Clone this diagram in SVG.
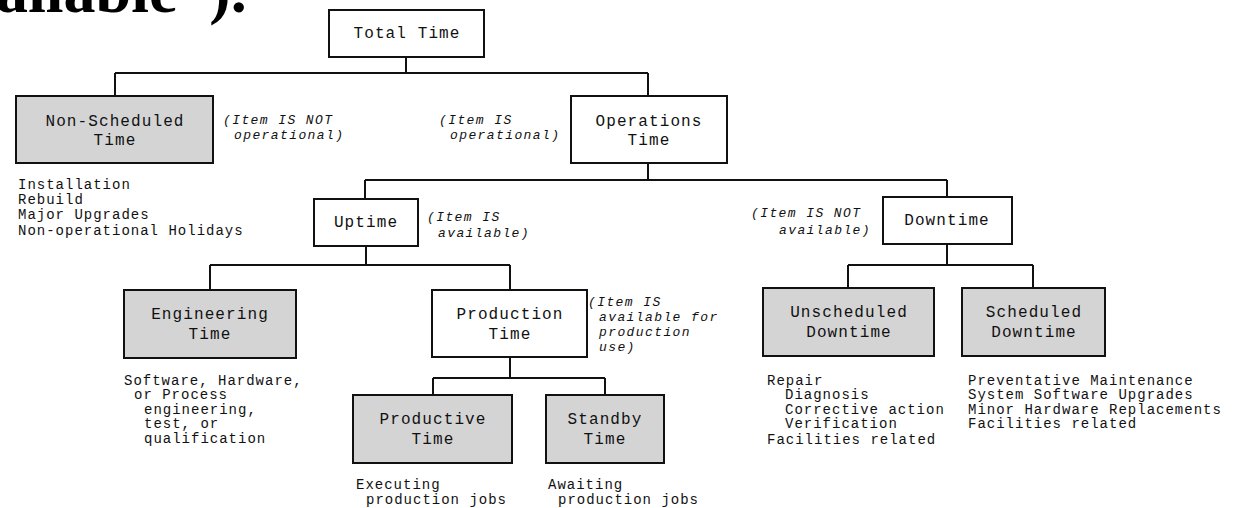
<svg xmlns="http://www.w3.org/2000/svg" width="1236" height="508" viewBox="0 0 1236 508">
<style>
.box{fill:#fff;stroke:#111;stroke-width:2}
.gray{fill:#d4d4d4}
.lbl{font-family:"Liberation Mono","Courier New",monospace;font-size:16px;letter-spacing:1.1px;fill:#111;text-anchor:middle}
.note{font-family:"Liberation Mono","Courier New",monospace;font-size:14px;letter-spacing:1px;fill:#111}
.it{font-family:"Liberation Mono","Courier New",monospace;font-size:13px;letter-spacing:1.4px;font-style:italic;fill:#111}
.conn{fill:none;stroke:#111;stroke-width:2}
.title{font-family:"Liberation Serif","Times New Roman",serif;font-size:64px;font-weight:bold;fill:#000}
</style>
<text class="title" x="-4" y="12">ailable”).</text>
<g id="connectors">
<path class="conn" d="M406,57 V73 M115,73 H648 M115,73 V96 M648,73 V96"/>
<path class="conn" d="M648,163 V180 M365,180 H947 M365,180 V199 M947,180 V197"/>
<path class="conn" d="M366,246 V265 M210,265 H510 M210,265 V290 M510,265 V290"/>
<path class="conn" d="M947,244 V265 M848,265 H1033 M848,265 V288 M1033,265 V288"/>
<path class="conn" d="M510,357 V378 M433,378 H605 M433,378 V395 M605,378 V395"/>
</g>
<g id="total">
<rect class="box" x="329" y="10" width="155" height="47"/>
<text class="lbl" x="407" y="38">Total Time</text>
</g>
<g id="nonscheduled">
<rect class="box gray" x="16" y="96" width="197" height="67"/>
<text class="lbl" x="115" y="126">Non-Scheduled</text>
<text class="lbl" x="115" y="145">Time</text>
<text class="note" x="18" y="189">Installation</text>
<text class="note" x="18" y="204">Rebuild</text>
<text class="note" x="18" y="219">Major Upgrades</text>
<text class="note" x="18" y="235">Non-operational Holidays</text>
</g>
<g id="note-notop">
<text class="it" x="223" y="124">(Item IS NOT</text>
<text class="it" x="234" y="139">operational)</text>
</g>
<g id="note-op">
<text class="it" x="439" y="124">(Item IS</text>
<text class="it" x="450" y="139">operational)</text>
</g>
<g id="operations">
<rect class="box" x="571" y="96" width="156" height="67"/>
<text class="lbl" x="649" y="126">Operations</text>
<text class="lbl" x="649" y="145">Time</text>
</g>
<g id="uptime">
<rect class="box" x="314" y="199" width="104" height="47"/>
<text class="lbl" x="366" y="227">Uptime</text>
<text class="it" x="427" y="221">(Item IS</text>
<text class="it" x="438" y="237">available)</text>
</g>
<g id="downtime">
<rect class="box" x="883" y="197" width="129" height="47"/>
<text class="lbl" x="947" y="225">Downtime</text>
<text class="it" x="751" y="217">(Item IS NOT</text>
<text class="it" x="779" y="234">available)</text>
</g>
<g id="engineering">
<rect class="box gray" x="124" y="290" width="172" height="68"/>
<text class="lbl" x="210" y="319">Engineering</text>
<text class="lbl" x="210" y="339">Time</text>
<text class="note" x="124" y="385">Software, Hardware,</text>
<text class="note" x="134" y="399">or Process</text>
<text class="note" x="144" y="414">engineering,</text>
<text class="note" x="144" y="428">test, or</text>
<text class="note" x="144" y="443">qualification</text>
</g>
<g id="production">
<rect class="box" x="432" y="290" width="155" height="67"/>
<text class="lbl" x="510" y="319">Production</text>
<text class="lbl" x="510" y="339">Time</text>
<text class="it" x="588" y="306">(Item IS</text>
<text class="it" x="599" y="321">available for</text>
<text class="it" x="599" y="336">production</text>
<text class="it" x="599" y="351">use)</text>
</g>
<g id="productive">
<rect class="box gray" x="353" y="395" width="159" height="68"/>
<text class="lbl" x="433" y="424">Productive</text>
<text class="lbl" x="433" y="444">Time</text>
<text class="note" x="356" y="489">Executing</text>
<text class="note" x="366" y="504">production jobs</text>
</g>
<g id="standby">
<rect class="box gray" x="546" y="395" width="118" height="68"/>
<text class="lbl" x="605" y="424">Standby</text>
<text class="lbl" x="605" y="444">Time</text>
<text class="note" x="548" y="489">Awaiting</text>
<text class="note" x="558" y="504">production jobs</text>
</g>
<g id="unscheduled">
<rect class="box gray" x="763" y="288" width="171" height="68"/>
<text class="lbl" x="849" y="317">Unscheduled</text>
<text class="lbl" x="849" y="337">Downtime</text>
<text class="note" x="767" y="385">Repair</text>
<text class="note" x="785" y="399">Diagnosis</text>
<text class="note" x="785" y="414">Corrective action</text>
<text class="note" x="785" y="428">Verification</text>
<text class="note" x="767" y="444">Facilities related</text>
</g>
<g id="scheduled">
<rect class="box gray" x="962" y="288" width="143" height="68"/>
<text class="lbl" x="1034" y="317">Scheduled</text>
<text class="lbl" x="1034" y="337">Downtime</text>
<text class="note" x="968" y="385">Preventative Maintenance</text>
<text class="note" x="968" y="399">System Software Upgrades</text>
<text class="note" x="968" y="414">Minor Hardware Replacements</text>
<text class="note" x="968" y="428">Facilities related</text>
</g>
</svg>
